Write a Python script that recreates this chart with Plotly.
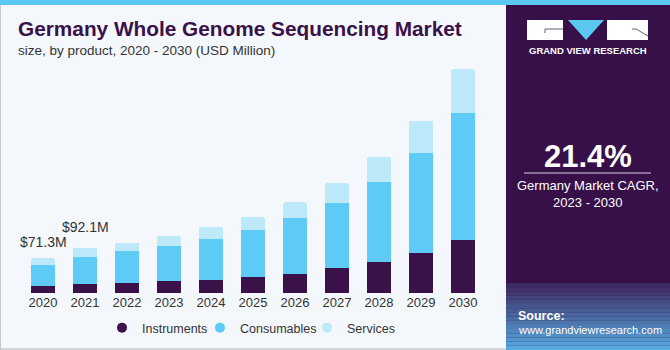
import plotly.graph_objects as go

years = ["2020", "2021", "2022", "2023", "2024", "2025", "2026", "2027", "2028", "2029", "2030"]
instruments = [14.3, 18.4, 21.0, 24.5, 26.5, 32.6, 38.8, 50.4, 62.6, 81.6, 107.5]
consumables = [43.5, 55.7, 64.6, 72.0, 83.6, 96.5, 114.2, 133.2, 163.8, 204.6, 260.3]
services = [13.5, 18.0, 17.0, 19.8, 24.5, 25.9, 32.0, 40.8, 51.0, 65.3, 88.5]
label_years = ["2020", "2021"]
label_texts = ["$71.3M", "$92.1M"]
label_totals = [71.3, 92.1]

C_INS = "#3a1149"
C_CON = "#5ecbf6"
C_SER = "#bee9fa"
PANEL = "#37104a"
LABEL_SHIFT = {"2020": 6, "2021": 11}

W, H = 670, 350
L, R, T, B = 22, 186, 48, 57
PW, PH = W - L - R, H - T - B


def fx(px):
    return (px - L) / PW


def fy(py):
    return (H - B - py) / PH


fig = go.Figure()
for name, vals, col in [("Instruments", instruments, C_INS),
                        ("Consumables", consumables, C_CON),
                        ("Services", services, C_SER)]:
    fig.add_trace(go.Bar(x=years, y=vals, name=name, marker=dict(color=col, line=dict(width=0)),
                         showlegend=False, hoverinfo="x+y+name"))
for name, col, lw in [("Instruments", C_INS, 53), ("Consumables", C_CON, 62), ("Services", C_SER, 50)]:
    fig.add_trace(go.Scatter(x=[years[0]], y=[None], mode="markers", name=name, legendwidth=lw,
                             marker=dict(color=col, size=10, symbol="circle")))

font_main = "Liberation Sans, Arial, sans-serif"

annotations = []
for yr, txt, tot in zip(label_years, label_texts, label_totals):
    annotations.append(dict(x=years.index(yr), y=tot, xref="x", yref="y", text=txt, showarrow=False,
                            yanchor="bottom", yshift=LABEL_SHIFT.get(yr, 8),
                            font=dict(size=14, color="#333333", family=font_main)))

# Title and subtitle
annotations.append(dict(x=fx(16), y=fy(29), xref="paper", yref="paper", xanchor="left", yanchor="middle",
                        text="<b>Germany Whole Genome Sequencing Market</b>", showarrow=False,
                        font=dict(size=20.8, color="#3a1149", family=font_main)))
annotations.append(dict(x=fx(16), y=fy(50), xref="paper", yref="paper", xanchor="left", yanchor="middle",
                        text="size, by product, 2020 - 2030 (USD Million)", showarrow=False,
                        font=dict(size=13.5, color="#333333", family=font_main)))
# Right panel texts
annotations.append(dict(x=fx(588), y=fy(50), xref="paper", yref="paper", xanchor="center", yanchor="middle",
                        text="<b>GRAND VIEW RESEARCH</b>", showarrow=False,
                        font=dict(size=9.5, color="white", family=font_main)))
annotations.append(dict(x=fx(588), y=fy(156), xref="paper", yref="paper", xanchor="center", yanchor="middle",
                        text="<b>21.4%</b>", showarrow=False,
                        font=dict(size=31, color="white", family=font_main)))
annotations.append(dict(x=fx(588), y=fy(194), xref="paper", yref="paper", xanchor="center", yanchor="middle",
                        text="Germany Market CAGR,<br>2023 - 2030", showarrow=False,
                        font=dict(size=13, color="white", family=font_main)))
annotations.append(dict(x=fx(516), y=fy(316), xref="paper", yref="paper", xanchor="left", yanchor="middle",
                        text="<b>Source:</b>", showarrow=False, align="left",
                        font=dict(size=12.5, color="white", family=font_main)))
annotations.append(dict(x=fx(516), y=fy(330), xref="paper", yref="paper", xanchor="left", yanchor="middle",
                        text="www.grandviewresearch.com", showarrow=False, align="left",
                        font=dict(size=11, color="white", family=font_main)))

shapes = []
# right panel
shapes.append(dict(type="rect", xref="paper", yref="paper", x0=fx(506), x1=fx(670), y0=fy(350), y1=fy(0),
                   fillcolor=PANEL, line=dict(width=0), layer="below"))
# bottom gradient of panel
top_c = (0x40, 0x2a, 0x62)
bot_c = (0x55, 0xa8, 0xe0)
n = 16
y_start, y_end = 283, 350
for i in range(n):
    t = i / (n - 1)
    c = tuple(int(top_c[k] + (bot_c[k] - top_c[k]) * t) for k in range(3))
    y0p = y_start + (y_end - y_start) * i / n
    y1p = y_start + (y_end - y_start) * (i + 1) / n
    shapes.append(dict(type="rect", xref="paper", yref="paper", x0=fx(506), x1=fx(670), y0=fy(y1p), y1=fy(y0p),
                       fillcolor="rgb(%d,%d,%d)" % c, line=dict(width=0), layer="below"))
# top blue stripe
shapes.append(dict(type="rect", xref="paper", yref="paper", x0=fx(0), x1=fx(670), y0=fy(5), y1=fy(0),
                   fillcolor="#5bc8f0", line=dict(width=0), layer="below"))
# frame lines
shapes.append(dict(type="line", xref="paper", yref="paper", x0=fx(0.5), x1=fx(0.5), y0=fy(350), y1=fy(5),
                   line=dict(color="#c8c8c8", width=1)))
shapes.append(dict(type="line", xref="paper", yref="paper", x0=fx(0), x1=fx(506), y0=fy(349), y1=fy(349),
                   line=dict(color="#c8c8c8", width=1.5)))
# divider under CAGR
shapes.append(dict(type="line", xref="paper", yref="paper", x0=fx(524), x1=fx(651), y0=fy(173), y1=fy(173),
                   line=dict(color="#d8d0e0", width=1.2)))
# logo
shapes.append(dict(type="rect", xref="paper", yref="paper", x0=fx(527), x1=fx(563), y0=fy(40), y1=fy(20),
                   fillcolor="white", line=dict(width=0)))
shapes.append(dict(type="path", xref="paper", yref="paper",
                   path="M %f,%f L %f,%f L %f,%f Z" % (fx(568), fy(20), fx(604), fy(20), fx(586), fy(40)),
                   fillcolor="#5bc8f0", line=dict(width=0)))
shapes.append(dict(type="rect", xref="paper", yref="paper", x0=fx(607), x1=fx(648), y0=fy(40), y1=fy(20),
                   fillcolor="white", line=dict(width=0)))
shapes.append(dict(type="line", xref="paper", yref="paper", x0=fx(545), x1=fx(563), y0=fy(29), y1=fy(29),
                   line=dict(color="#6a5a78", width=1)))
shapes.append(dict(type="line", xref="paper", yref="paper", x0=fx(545), x1=fx(545), y0=fy(29), y1=fy(33),
                   line=dict(color="#6a5a78", width=1)))
shapes.append(dict(type="line", xref="paper", yref="paper", x0=fx(632), x1=fx(636), y0=fy(29), y1=fy(29),
                   line=dict(color="#6a5a78", width=1)))
shapes.append(dict(type="line", xref="paper", yref="paper", x0=fx(636), x1=fx(648), y0=fy(29), y1=fy(36),
                   line=dict(color="#6a5a78", width=1)))

fig.update_layout(
    width=W, height=H,
    margin=dict(l=L, r=R, t=T, b=B, autoexpand=False),
    barmode="stack",
    bargap=0.43,
    barcornerradius=2,
    paper_bgcolor="#f4f8fc",
    plot_bgcolor="#f4f8fc",
    font=dict(family=font_main, color="#333333"),
    xaxis=dict(type="category", categoryorder="array", categoryarray=years,
               range=[-0.5, len(years) - 0.5], autorange=False, automargin=False,
               showgrid=False, zeroline=False, showline=False, ticks="",
               tickfont=dict(size=13, color="#333333", family=font_main), fixedrange=True),
    yaxis=dict(range=[0, 500], autorange=False, visible=False, fixedrange=True),
    showlegend=True,
    legend=dict(orientation="h", x=fx(102), y=fy(313), xanchor="left", yanchor="top",
                traceorder="normal",
                font=dict(size=12.5, color="#333333", family=font_main), bgcolor="rgba(0,0,0,0)",
                itemwidth=30),
    annotations=annotations,
    shapes=shapes,
)

fig.write_html("out.html")
